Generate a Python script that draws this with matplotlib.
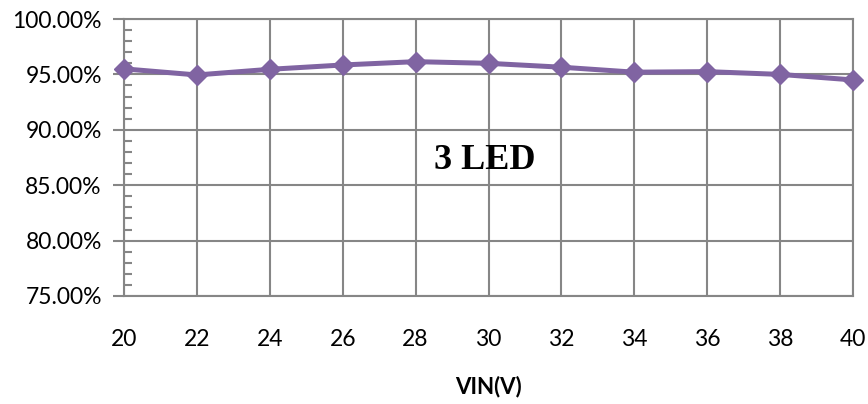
import matplotlib
matplotlib.use("Agg")
import matplotlib.pyplot as plt
from matplotlib.ticker import MultipleLocator, FuncFormatter

# efficiency vs input voltage, 3 LED string
vin = [20, 22, 24, 26, 28, 30, 32, 34, 36, 38, 40]
efficiency = [95.5, 94.95, 95.46, 95.85, 96.15, 96.0, 95.65, 95.2, 95.25, 95.0, 94.5]

grid_gray = "#868686"
purple = "#8064A2"

plt.rcParams["font.family"] = ["Lato", "DejaVu Sans"]

fig = plt.figure(figsize=(8.68, 4.04), dpi=100)
ax = fig.add_axes([124 / 868, 1 - 296 / 404, (853 - 124) / 868, (296 - 19) / 404])

ax.plot(vin, efficiency, color=purple, lw=3.6, marker="D", ms=10,
        markeredgecolor=purple, clip_on=False, zorder=3)

ax.set_xlim(20, 40)
ax.set_ylim(75, 100)
ax.set_xticks(vin)
ax.yaxis.set_major_locator(MultipleLocator(5))
ax.yaxis.set_minor_locator(MultipleLocator(1))
ax.yaxis.set_major_formatter(FuncFormatter(lambda v, p: f"{v:.2f}%"))

ax.grid(True, which="major", color=grid_gray, lw=1.5)
ax.set_axisbelow(True)
for s in ax.spines.values():
    s.set_color(grid_gray)
    s.set_linewidth(1.5)

ax.tick_params(axis="y", which="major", direction="out", length=8, width=1.5,
               color=grid_gray, labelsize=16.5, pad=8)
ax.tick_params(axis="y", which="minor", direction="in", length=6, width=1.5,
               color=grid_gray)
ax.tick_params(axis="x", which="major", length=0, labelsize=16.5, pad=24)

ax.set_xlabel("VIN(V)", fontsize=16, fontweight="bold", labelpad=18)
ax.text(0.495, 0.49, "3 LED", transform=ax.transAxes, ha="center", va="center",
        fontsize=26, fontweight="bold", family="Liberation Serif")

fig.savefig("out.png", dpi=100)
